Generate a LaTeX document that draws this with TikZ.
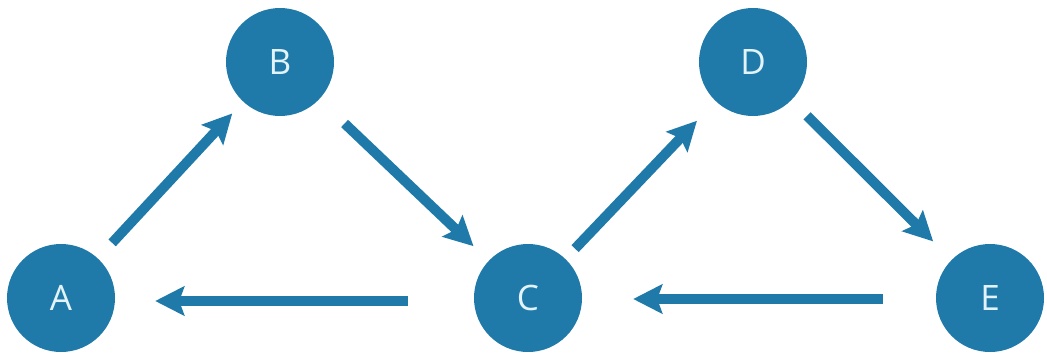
\documentclass[tikz,border=0pt]{standalone}
\usepackage{fontspec}
\setmainfont{Open Sans}
\usetikzlibrary{arrows.meta}
\definecolor{nodeblue}{RGB}{31,122,170}
\definecolor{labelcol}{RGB}{226,244,250}
\begin{document}
\begin{tikzpicture}[x=1pt,y=-1pt,
  vertex/.style={circle,fill=nodeblue,draw=none,minimum size=108pt,inner sep=0pt,
    text=labelcol,font=\fontsize{35}{40}\selectfont},
  link/.style={draw=nodeblue,line width=10pt,
    -{Stealth[length=29pt 0,width=29pt 0,inset=5pt 0]}}]
\useasboundingbox (0,0) rectangle (1047,356);
\node[vertex] (A) at (61,298) {A};
\node[vertex] (B) at (280,62) {B};
\node[vertex] (C) at (528,298) {C};
\node[vertex] (D) at (753,62) {D};
\node[vertex] (E) at (990,298) {E};
\draw[link,shorten <=21pt,shorten >=16pt] (A) -- (B);
\draw[link,shorten <=35pt,shorten >=21pt] (B) -- (C);
\draw[link,shorten <=66pt,shorten >=40pt] ([yshift=-3pt]C.west) -- ([yshift=-3pt]A.east);
\draw[link,shorten <=14pt,shorten >=27pt] (C) -- (D);
\draw[link,shorten <=22pt,shorten >=26pt] (D) -- (E);
\draw[link,shorten <=53pt,shorten >=51pt] ([yshift=-1pt]E.west) -- ([yshift=-1pt]C.east);
\end{tikzpicture}
\end{document}
